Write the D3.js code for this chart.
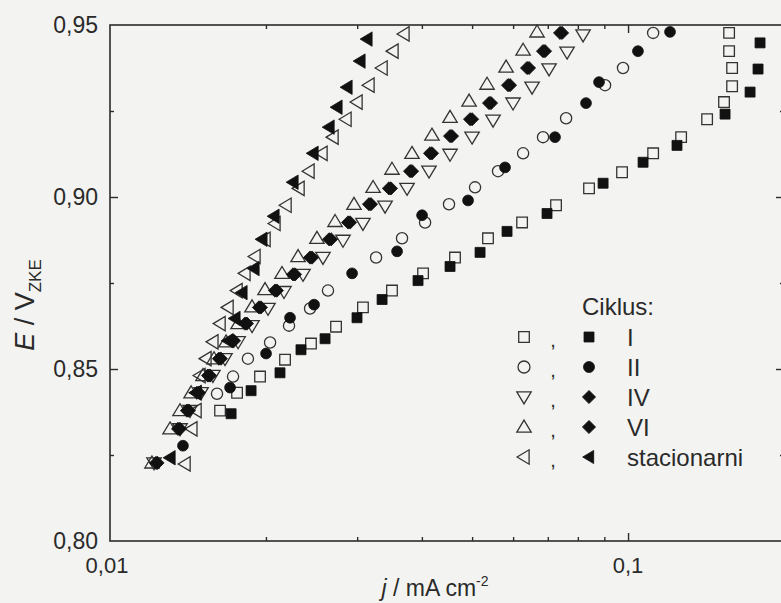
<!DOCTYPE html>
<html>
<head>
<meta charset="utf-8">
<script src="https://cdn.jsdelivr.net/npm/d3@7"></script>
<style>
  html, body { margin: 0; padding: 0; background: #f3f4f1; }
  svg { display: block; }
  text { font-family: "Liberation Sans", Arial, sans-serif; fill: #2a2a2a; }
</style>
</head>
<body>
<svg id="chart" width="781" height="603"></svg>
<script>
// ---------------- DATA (j in mA cm^-2, E in V vs ZKE) ----------------
const cycleI_open = [[0.01631,0.8379],[0.01759,0.8431],[0.01948,0.8478],[0.02177,0.8527],[0.02443,0.8574],[0.02731,0.8623],[0.03078,0.8679],[0.03502,0.8728],[0.04021,0.8778],[0.04634,0.8824],[0.05366,0.8880],[0.06244,0.8926],[0.07261,0.8976],[0.08408,0.9025],[0.09737,0.9072],[0.1118,0.9127],[0.1266,0.9174],[0.1421,0.9226],[0.1532,0.9276],[0.1588,0.9322],[0.1588,0.9375],[0.1567,0.9424],[0.1567,0.9477]];
const cycleI_filled = [[0.01713,0.8370],[0.01872,0.8437],[0.02129,0.8489],[0.02337,0.8556],[0.02601,0.8588],[0.02998,0.8649],[0.03351,0.8702],[0.03932,0.8757],[0.04533,0.8798],[0.05180,0.8839],[0.05840,0.8900],[0.06976,0.8952],[0.08950,0.9040],[0.1069,0.9101],[0.1243,0.9150],[0.1539,0.9241],[0.1720,0.9305],[0.1782,0.9372],[0.1798,0.9448]];
const cycleII_open = [[0.01609,0.8428],[0.01728,0.8478],[0.01846,0.8530],[0.02037,0.8577],[0.02216,0.8626],[0.02433,0.8676],[0.02635,0.8728],[0.03263,0.8824],[0.03662,0.8880],[0.04057,0.8926],[0.04512,0.8979],[0.05066,0.9028],[0.05611,0.9075],[0.06272,0.9127],[0.06853,0.9174],[0.07593,0.9229],[0.09029,0.9325],[0.09779,0.9375],[0.1118,0.9477]];
const cycleII_filled = [[0.01383,0.8277],[0.01705,0.8446],[0.02001,0.8545],[0.02226,0.8649],[0.02477,0.8687],[0.02933,0.8778],[0.03582,0.8842],[0.04003,0.8947],[0.04911,0.8990],[0.05788,0.9086],[0.07228,0.9174],[0.08296,0.9273],[0.08790,0.9334],[0.1045,0.9424],[0.1205,0.9480]];
const cycleIV_open = [[0.01216,0.8227],[0.01365,0.8326],[0.01427,0.8379],[0.01499,0.8431],[0.01580,0.8481],[0.01667,0.8530],[0.01767,0.8579],[0.01880,0.8626],[0.02018,0.8676],[0.02167,0.8725],[0.02358,0.8775],[0.02577,0.8824],[0.02817,0.8874],[0.03078,0.8923],[0.03396,0.8973],[0.03744,0.9025],[0.04128,0.9075],[0.04533,0.9124],[0.04999,0.9174],[0.05488,0.9223],[0.05998,0.9273],[0.06527,0.9319],[0.07039,0.9372],[0.07626,0.9421],[0.08188,0.9471]];
const cycleIV_filled = [[0.01235,0.8227],[0.01365,0.8326],[0.01420,0.8379],[0.01485,0.8431],[0.01560,0.8481],[0.01637,0.8530],[0.01735,0.8582],[0.01838,0.8632],[0.01956,0.8679],[0.02100,0.8728],[0.02276,0.8775],[0.02455,0.8824],[0.02672,0.8877],[0.02907,0.8926],[0.03190,0.8979],[0.03486,0.9025],[0.03829,0.9075],[0.04184,0.9127],[0.04573,0.9177],[0.05000,0.9226],[0.05439,0.9273],[0.05918,0.9325],[0.06440,0.9375],[0.06914,0.9424],[0.07458,0.9477]];
const cycleVI_open = [[0.01205,0.8227],[0.01306,0.8326],[0.01365,0.8379],[0.01434,0.8431],[0.01512,0.8481],[0.01588,0.8530],[0.01675,0.8579],[0.01767,0.8632],[0.01880,0.8681],[0.01992,0.8731],[0.02148,0.8778],[0.02307,0.8827],[0.02509,0.8880],[0.02719,0.8929],[0.02958,0.8979],[0.03220,0.9028],[0.03502,0.9081],[0.03828,0.9127],[0.04183,0.9180],[0.04533,0.9232],[0.04933,0.9279],[0.05343,0.9328],[0.05815,0.9378],[0.06272,0.9427],[0.06673,0.9480]];
const cycleVI_filled = [[0.01227,0.8227],[0.01353,0.8326],[0.01408,0.8379],[0.01472,0.8431],[0.01546,0.8481],[0.01623,0.8530],[0.01720,0.8582],[0.01822,0.8632],[0.01939,0.8679],[0.02082,0.8728],[0.02256,0.8775],[0.02433,0.8824],[0.02648,0.8877],[0.02881,0.8926],[0.03162,0.8979],[0.03455,0.9025],[0.03795,0.9075],[0.04147,0.9127],[0.04533,0.9177],[0.04955,0.9226],[0.05391,0.9273],[0.05866,0.9325],[0.06383,0.9375],[0.06853,0.9424],[0.07392,0.9477]];
const stat_open = [[0.01396,0.8224],[0.01439,0.8326],[0.01466,0.8379],[0.01466,0.8431],[0.01492,0.8481],[0.01532,0.8530],[0.01580,0.8579],[0.01631,0.8632],[0.01690,0.8679],[0.01759,0.8728],[0.01822,0.8778],[0.01905,0.8827],[0.01992,0.8877],[0.02082,0.8923],[0.02187,0.8976],[0.02317,0.9025],[0.02422,0.9075],[0.02566,0.9127],[0.02695,0.9174],[0.02855,0.9226],[0.02998,0.9276],[0.03162,0.9325],[0.03351,0.9375],[0.03518,0.9424],[0.03694,0.9474]];
const stat_filled = [[0.01306,0.8242],[0.01466,0.8431],[0.01690,0.8582],[0.01743,0.8647],[0.01798,0.8722],[0.01897,0.8792],[0.01965,0.8877],[0.02073,0.8944],[0.02256,0.9043],[0.02466,0.9127],[0.02648,0.9203],[0.02743,0.9261],[0.02868,0.9319],[0.03038,0.9395],[0.03134,0.9459]];

const legendLabels = ["I", "II", "IV", "VI", "stacionarni"];
const legendTitle = "Ciklus:";
const yTickValues = [0.80, 0.85, 0.90, 0.95];
const yMinorTicks = [0.825, 0.875, 0.925];
const xTickValues = [0.01, 0.1];
const xMinorTicks = [0.02, 0.03, 0.04, 0.05, 0.06, 0.07, 0.08, 0.09];
const fmtComma = d => d3.format(".2f")(d).replace(".", ",");

// ---------------- LAYOUT ----------------
const L = 110, R = 784, T = 25, B = 541;
const svg = d3.select("#chart");
const x = d3.scaleLog().domain([0.01, 0.2]).range([L, R]);
const y = d3.scaleLinear().domain([0.80, 0.95]).range([B, T]);
const ink = "#2b2b2b";

// marker shapes
const shapes = {
  square: s => `M${-s},${-s}H${s}V${s}H${-s}Z`,
  circle: s => `M${s},0A${s},${s} 0 1,1 ${-s},0A${s},${s} 0 1,1 ${s},0Z`,
  up: s => `M0,${-s*1.15}L${s*1.2},${s*0.85}L${-s*1.2},${s*0.85}Z`,
  down: s => `M0,${s*1.15}L${s*1.2},${-s*0.85}L${-s*1.2},${-s*0.85}Z`,
  left: s => `M${-s*1.15},0L${s*0.85},${-s*1.2}L${s*0.85},${s*1.2}Z`,
  diamond: s => `M0,${-s*1.2}L${s*1.2},0L0,${s*1.2}L${-s*1.2},0Z`
};

const series = [
  {data: cycleI_open, shape: "square", filled: false, s: 5.3},
  {data: cycleII_open, shape: "circle", filled: false, s: 5.6},
  {data: cycleIV_open, shape: "down", filled: false, s: 6},
  {data: cycleVI_open, shape: "up", filled: false, s: 6},
  {data: stat_open, shape: "left", filled: false, s: 6},
  {data: cycleI_filled, shape: "square", filled: true, s: 5},
  {data: cycleII_filled, shape: "circle", filled: true, s: 5.4},
  {data: cycleIV_filled, shape: "diamond", filled: true, s: 5.5},
  {data: cycleVI_filled, shape: "diamond", filled: true, s: 5.5},
  {data: stat_filled, shape: "left", filled: true, s: 6}
];

// ---------------- AXES FRAME ----------------
const g = svg.append("g");
g.append("rect").attr("x", L).attr("y", T).attr("width", R - L).attr("height", B - T)
  .attr("fill", "none").attr("stroke", ink).attr("stroke-width", 1.6);

g.append("g").attr("transform", `translate(${L},0)`).call(d3.axisRight(y).tickValues(yTickValues.slice(1, 3)).tickSize(8).tickFormat(""));
g.append("g").attr("transform", `translate(${L},0)`).call(d3.axisRight(y).tickValues(yMinorTicks).tickSize(4).tickFormat(""));
g.append("g").attr("transform", `translate(${R},0)`).call(d3.axisLeft(y).tickValues(yTickValues.slice(1, 3)).tickSize(8).tickFormat(""));
g.append("g").attr("transform", `translate(${R},0)`).call(d3.axisLeft(y).tickValues(yMinorTicks).tickSize(4).tickFormat(""));
g.append("g").attr("transform", `translate(0,${B})`).call(d3.axisTop(x).tickValues([0.1]).tickSize(8).tickFormat(""));
g.append("g").attr("transform", `translate(0,${B})`).call(d3.axisTop(x).tickValues(xMinorTicks).tickSize(4).tickFormat(""));
g.append("g").attr("transform", `translate(0,${T})`).call(d3.axisBottom(x).tickValues([0.1]).tickSize(8).tickFormat(""));
g.append("g").attr("transform", `translate(0,${T})`).call(d3.axisBottom(x).tickValues(xMinorTicks).tickSize(4).tickFormat(""));
g.selectAll(".domain").remove();
g.selectAll(".tick line").attr("stroke", ink).attr("stroke-width", 1.4);

// tick labels
svg.append("g").selectAll("text").data(yTickValues).join("text")
  .attr("x", 98).attr("y", d => y(d)).attr("dy", "0.36em")
  .attr("text-anchor", "end").attr("font-size", 23).text(fmtComma);
svg.append("g").selectAll("text").data(xTickValues).join("text")
  .attr("x", d => x(d) - (d === 0.01 ? 3 : 0)).attr("y", 565).attr("dy", "0.36em")
  .attr("text-anchor", "middle").attr("font-size", 22)
  .text(d => d === 0.01 ? "0,01" : "0,1");

// axis titles
const xt = svg.append("text").attr("x", 435).attr("y", 596).attr("text-anchor", "middle").attr("font-size", 23);
xt.append("tspan").attr("font-style", "italic").text("j");
xt.append("tspan").text(" / mA cm");
xt.append("tspan").attr("font-size", 14).attr("dy", -10).text("-2");

const yt = svg.append("text").attr("transform", "translate(34,305) rotate(-90)").attr("text-anchor", "middle").attr("font-size", 27);
yt.append("tspan").attr("font-style", "italic").text("E");
yt.append("tspan").text(" / V");
yt.append("tspan").attr("font-size", 17).attr("dy", 7).text("ZKE");

// ---------------- MARKERS ----------------
const mk = svg.append("g");
series.forEach(sr => {
  mk.append("g").selectAll("path").data(sr.data).join("path")
    .attr("transform", d => `translate(${x(d[0])},${y(d[1])})`)
    .attr("d", shapes[sr.shape](sr.s))
    .attr("fill", sr.filled ? "#111" : "none")
    .attr("stroke", sr.filled ? "#111" : "#333")
    .attr("stroke-width", sr.filled ? 0.8 : 1.3);
});

// ---------------- LEGEND ----------------
const legendPairs = [["square","square"],["circle","circle"],["down","diamond"],["up","diamond"],["left","left"]];
const lg = svg.append("g");
lg.append("text").attr("x", 582).attr("y", 306).attr("dy", "0.36em").attr("font-size", 24).text(legendTitle);
legendLabels.forEach((lab, i) => {
  const yy = 337 + i * 30;
  const [o, f] = legendPairs[i];
  lg.append("path").attr("transform", `translate(524,${yy})`).attr("d", shapes[o](o === "square" ? 5.3 : 6))
    .attr("fill", "none").attr("stroke", "#333").attr("stroke-width", 1.3);
  lg.append("text").attr("x", 553).attr("y", yy).attr("dy", "0.5em").attr("text-anchor", "middle").attr("font-size", 20).text(",");
  lg.append("path").attr("transform", `translate(589,${yy})`).attr("d", shapes[f](f === "square" ? 5 : 5.5))
    .attr("fill", "#111").attr("stroke", "#111").attr("stroke-width", 0.8);
  lg.append("text").attr("x", 627).attr("y", yy).attr("dy", "0.36em").attr("font-size", 24).text(lab);
});
</script>
</body>
</html>
